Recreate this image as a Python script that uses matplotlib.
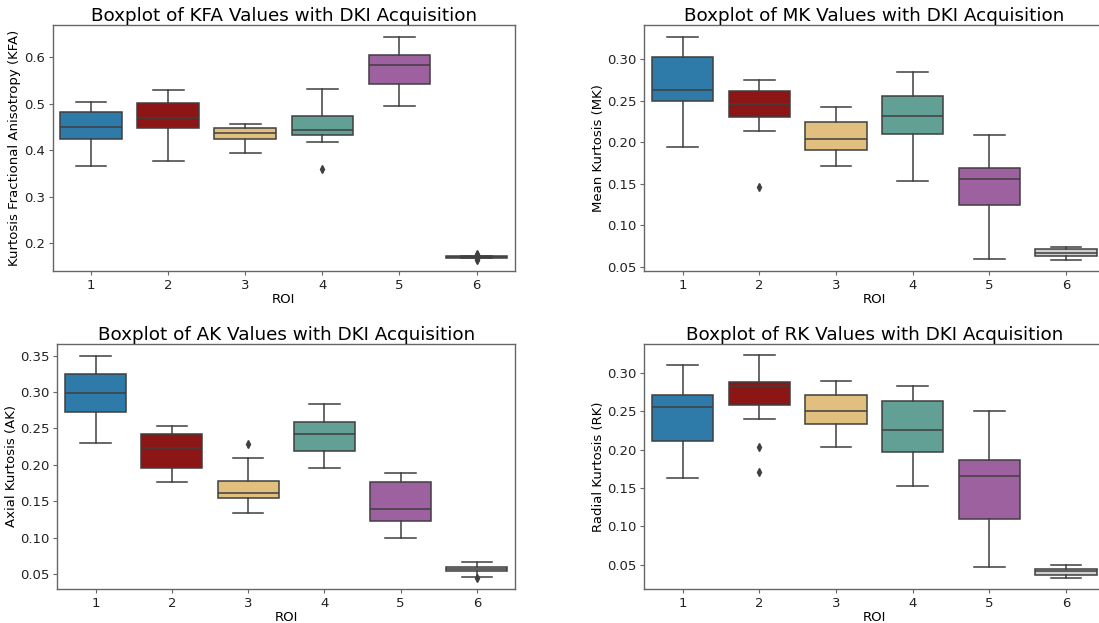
import matplotlib
matplotlib.use("Agg")
import matplotlib.pyplot as plt

# ROI labels and box colours
roi = ["1", "2", "3", "4", "5", "6"]
colores = ["#2e7aa8", "#8c1515", "#e1c07f", "#629f94", "#9c619e", "#d0d0d0"]

# KFA: lower whisker, q1, median, q3, upper whisker, outliers
kfa_low = [0.367, 0.378, 0.394, 0.418, 0.495, 0.1690]
kfa_q1 = [0.425, 0.448, 0.425, 0.432, 0.543, 0.1690]
kfa_med = [0.450, 0.470, 0.438, 0.444, 0.584, 0.1700]
kfa_q3 = [0.482, 0.501, 0.447, 0.474, 0.605, 0.1715]
kfa_high = [0.504, 0.531, 0.456, 0.533, 0.645, 0.1720]
kfa_out = [[], [], [], [0.360], [], [0.177, 0.175, 0.165, 0.163]]

# MK
mk_low = [0.194, 0.214, 0.171, 0.153, 0.059, 0.058]
mk_q1 = [0.249, 0.230, 0.191, 0.210, 0.125, 0.063]
mk_med = [0.263, 0.246, 0.204, 0.231, 0.156, 0.067]
mk_q3 = [0.302, 0.261, 0.224, 0.256, 0.169, 0.071]
mk_high = [0.327, 0.275, 0.242, 0.285, 0.209, 0.074]
mk_out = [[], [0.146], [], [], [], []]

# AK
ak_low = [0.230, 0.176, 0.134, 0.195, 0.099, 0.046]
ak_q1 = [0.273, 0.196, 0.154, 0.219, 0.123, 0.054]
ak_med = [0.298, 0.223, 0.162, 0.242, 0.140, 0.057]
ak_q3 = [0.325, 0.242, 0.178, 0.259, 0.176, 0.060]
ak_high = [0.350, 0.254, 0.209, 0.283, 0.189, 0.067]
ak_out = [[], [], [0.229], [], [], [0.044]]

# RK
rk_low = [0.163, 0.240, 0.203, 0.153, 0.047, 0.032]
rk_q1 = [0.212, 0.258, 0.233, 0.197, 0.109, 0.037]
rk_med = [0.256, 0.283, 0.250, 0.226, 0.166, 0.042]
rk_q3 = [0.272, 0.289, 0.271, 0.264, 0.186, 0.044]
rk_high = [0.311, 0.323, 0.290, 0.283, 0.251, 0.049]
rk_out = [[], [0.203, 0.171], [], [], [], []]

cinza = "#3f3f3f"

def desenhar(ax, low, q1, med, q3, high, out, titulo, ylabel, ylim):
    stats = []
    for i in range(len(roi)):
        stats.append({"whislo": low[i], "q1": q1[i], "med": med[i],
                      "q3": q3[i], "whishi": high[i], "fliers": out[i]})
    bp = ax.bxp(stats, positions=range(len(roi)), widths=0.8, patch_artist=True,
                boxprops=dict(edgecolor=cinza, linewidth=1.1),
                whiskerprops=dict(color=cinza, linewidth=1.1),
                capprops=dict(color=cinza, linewidth=1.1),
                medianprops=dict(color=cinza, linewidth=1.1),
                flierprops=dict(marker="d", markersize=4, markerfacecolor=cinza,
                                markeredgecolor=cinza))
    for caixa, cor in zip(bp["boxes"], colores):
        caixa.set_facecolor(cor)
    ax.set_xticks(range(len(roi)))
    ax.set_xticklabels(roi)
    ax.set_xlim(-0.5, len(roi) - 0.5)
    ax.set_ylim(ylim)
    ax.set_title(titulo, fontsize=13.2, pad=3)
    ax.set_xlabel("ROI", fontsize=9.5, labelpad=1)
    ax.set_ylabel(ylabel, fontsize=9.5, labelpad=2)
    ax.tick_params(labelsize=9.5, colors="#222222", length=3, width=0.8, pad=2.5)
    ax.tick_params(color="#666666")
    for s in ax.spines.values():
        s.set_color("#666666")
        s.set_linewidth(1.0)


fig = plt.figure(figsize=(10.99, 6.23), dpi=100)
ax1 = fig.add_axes([0.0478, 0.565, 0.4209, 0.3949])
ax2 = fig.add_axes([0.5864, 0.565, 0.4186, 0.3949])
ax3 = fig.add_axes([0.0523, 0.0546, 0.4163, 0.3933])
ax4 = fig.add_axes([0.5864, 0.0546, 0.4186, 0.3933])

desenhar(ax1, kfa_low, kfa_q1, kfa_med, kfa_q3, kfa_high, kfa_out,
         "Boxplot of KFA Values with DKI Acquisition",
         "Kurtosis Fractional Anisotropy (KFA)", (0.140, 0.670))
desenhar(ax2, mk_low, mk_q1, mk_med, mk_q3, mk_high, mk_out,
         "Boxplot of MK Values with DKI Acquisition",
         "Mean Kurtosis (MK)", (0.045, 0.341))
desenhar(ax3, ak_low, ak_q1, ak_med, ak_q3, ak_high, ak_out,
         "Boxplot of AK Values with DKI Acquisition",
         "Axial Kurtosis (AK)", (0.0295, 0.366))
desenhar(ax4, rk_low, rk_q1, rk_med, rk_q3, rk_high, rk_out,
         "Boxplot of RK Values with DKI Acquisition",
         "Radial Kurtosis (RK)", (0.0183, 0.338))

fig.savefig("out.png", dpi=100)
